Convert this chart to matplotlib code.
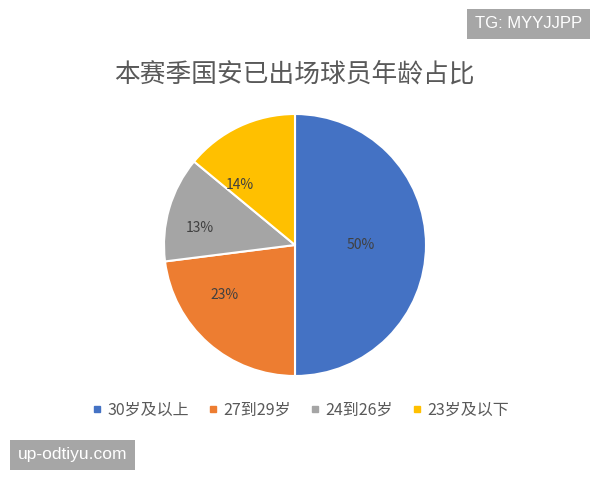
import numpy as np
from matplotlib import pyplot as plt

plt.rcParams['font.family'] = ['Noto Sans CJK SC', 'DejaVu Sans']

# data
labels = ['30岁及以上', '27到29岁', '24到26岁', '23岁及以下']
shares = [50, 23, 13, 14]
colors = ['#4472C4', '#ED7D31', '#A5A5A5', '#FFC000']
# where each % label sits: radius fraction and position along the wedge's arc
label_dist = [0.5, 0.66, 0.74, 0.62]
label_frac = [0.5, 0.34, 0.63, 0.85]

fig = plt.figure(figsize=(6, 4.8), dpi=100)
fig.patch.set_facecolor('white')

# pie axes: centre ~(295,245) px, radius ~131 px
ax = fig.add_axes([(295 - 131) / 600, (480 - 376) / 480, 262 / 600, 262 / 480])
wedges, _ = ax.pie(shares, colors=colors, startangle=90, counterclock=False,
                   radius=1, wedgeprops=dict(edgecolor='white', linewidth=1.5))
ax.set_xlim(-1, 1)
ax.set_ylim(-1, 1)
ax.set_aspect('equal')
ax.axis('off')

for w, v, d, f in zip(wedges, shares, label_dist, label_frac):
    ang = np.deg2rad(w.theta1 + f * (w.theta2 - w.theta1))
    ax.text(d * np.cos(ang), d * np.sin(ang), f'{v}%', ha='center', va='center',
            fontsize=10, color='#404040')

fig.text(0.49, 1 - 75 / 480, '本赛季国安已出场球员年龄占比', ha='center', va='center',
         fontsize=18.5, color='#595959')

handles = [plt.Line2D([], [], marker='s', linestyle='', color=c, markersize=4.5) for c in colors]
fig.legend(handles, labels, loc='center', bbox_to_anchor=(0.497, 1 - 410 / 480), ncol=4,
           frameon=False, fontsize=11.5, handletextpad=0.05, columnspacing=0.9,
           handlelength=1.2, labelcolor='#595959')

# watermarks
fig.text(1 - 18 / 600, 1 - 24 / 480, 'TG: MYYJJPP', ha='right', va='center', fontsize=12,
         color='white', family='Liberation Sans',
         bbox=dict(boxstyle='square,pad=0.45', facecolor='#A6A6A6', edgecolor='none'))
fig.text(18 / 600, 1 - 455 / 480, 'up-odtiyu.com', ha='left', va='center', fontsize=12.5,
         color='white', family='Liberation Sans',
         bbox=dict(boxstyle='square,pad=0.45', facecolor='#A6A6A6', edgecolor='none'))

fig.savefig('out.png', dpi=100)
